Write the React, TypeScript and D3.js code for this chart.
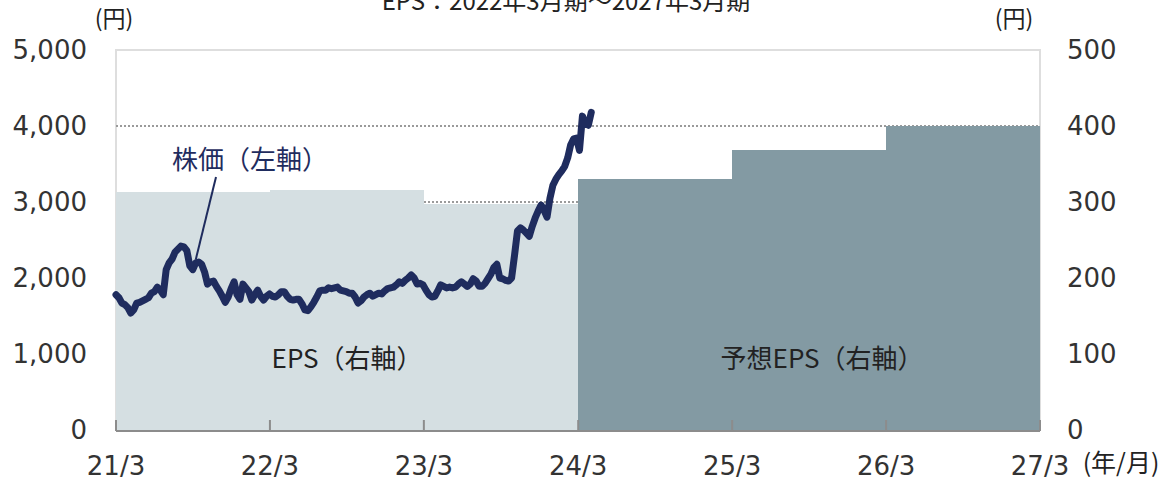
import React from "react";
import * as d3 from "d3";

// ---- data ----
const xTickDates = ["2021-03-31", "2022-03-31", "2023-03-31", "2024-03-31", "2025-03-31", "2026-03-31", "2027-03-31"];
const xTickLabels = ["21/3", "22/3", "23/3", "24/3", "25/3", "26/3", "27/3"];
const leftTicks = [0, 1000, 2000, 3000, 4000, 5000];
const rightTicks = [0, 100, 200, 300, 400, 500];

// EPS by fiscal year (period ending on the date)
const epsPeriodEnd = ["2022-03-31", "2023-03-31", "2024-03-31", "2025-03-31", "2026-03-31", "2027-03-31"];
const epsValues = [313, 316, 298, 330, 369, 400];
const epsIsForecast = [false, false, false, true, true, true];

// weekly share price (yen)
const priceDates = [
  "2021-03-31", "2021-04-07", "2021-04-14", "2021-04-21", "2021-04-28", "2021-05-05", "2021-05-12", "2021-05-19", "2021-05-26",
  "2021-06-02", "2021-06-09", "2021-06-16", "2021-06-23", "2021-06-30", "2021-07-07", "2021-07-14", "2021-07-21", "2021-07-28",
  "2021-08-04", "2021-08-11", "2021-08-18", "2021-08-25", "2021-09-01", "2021-09-08", "2021-09-15", "2021-09-22", "2021-09-29",
  "2021-10-06", "2021-10-13", "2021-10-20", "2021-10-27", "2021-11-03", "2021-11-10", "2021-11-17", "2021-11-24", "2021-12-01",
  "2021-12-08", "2021-12-15", "2021-12-22", "2021-12-29", "2022-01-05", "2022-01-12", "2022-01-19", "2022-01-26", "2022-02-02",
  "2022-02-09", "2022-02-16", "2022-02-23", "2022-03-02", "2022-03-09", "2022-03-16", "2022-03-23", "2022-03-30", "2022-04-06",
  "2022-04-13", "2022-04-20", "2022-04-27", "2022-05-04", "2022-05-11", "2022-05-18", "2022-05-25", "2022-06-01", "2022-06-08",
  "2022-06-15", "2022-06-22", "2022-06-29", "2022-07-06", "2022-07-13", "2022-07-20", "2022-07-27", "2022-08-03", "2022-08-10",
  "2022-08-17", "2022-08-24", "2022-08-31", "2022-09-07", "2022-09-14", "2022-09-21", "2022-09-28", "2022-10-05", "2022-10-12",
  "2022-10-19", "2022-10-26", "2022-11-02", "2022-11-09", "2022-11-16", "2022-11-23", "2022-11-30", "2022-12-07", "2022-12-14",
  "2022-12-21", "2022-12-28", "2023-01-04", "2023-01-11", "2023-01-18", "2023-01-25", "2023-02-01", "2023-02-08", "2023-02-15",
  "2023-02-22", "2023-03-01", "2023-03-08", "2023-03-15", "2023-03-22", "2023-03-29", "2023-04-05", "2023-04-12", "2023-04-19",
  "2023-04-26", "2023-05-03", "2023-05-10", "2023-05-17", "2023-05-24", "2023-05-31", "2023-06-07", "2023-06-14", "2023-06-21",
  "2023-06-28", "2023-07-05", "2023-07-12", "2023-07-19", "2023-07-26", "2023-08-02", "2023-08-09", "2023-08-16", "2023-08-23",
  "2023-08-30", "2023-09-06", "2023-09-13", "2023-09-20", "2023-09-27", "2023-10-04", "2023-10-11", "2023-10-18", "2023-10-25",
  "2023-11-01", "2023-11-08", "2023-11-15", "2023-11-22", "2023-11-29", "2023-12-06", "2023-12-13", "2023-12-20", "2023-12-27",
  "2024-01-03", "2024-01-10", "2024-01-17", "2024-01-24", "2024-01-31", "2024-02-07", "2024-02-14", "2024-02-21", "2024-02-28",
  "2024-03-06", "2024-03-13", "2024-03-20", "2024-03-27", "2024-04-03", "2024-04-10", "2024-04-17", "2024-04-24", "2024-05-01",
];
const priceValues = [
  1780, 1740, 1670, 1650, 1610, 1540, 1580, 1670, 1680,
  1700, 1720, 1740, 1800, 1820, 1880, 1840, 1780, 2110,
  2200, 2250, 2340, 2380, 2420, 2410, 2360, 2160, 2110,
  2200, 2210, 2180, 2080, 1920, 1950, 1960, 1890, 1830,
  1760, 1680, 1750, 1860, 1950, 1780, 1720, 1920, 1870,
  1820, 1710, 1780, 1840, 1760, 1710, 1760, 1790, 1760,
  1750, 1780, 1820, 1820, 1760, 1720, 1710, 1720, 1720,
  1660, 1580, 1570, 1620, 1680, 1750, 1830, 1840, 1840,
  1870, 1860, 1870, 1880, 1840, 1830, 1820, 1800, 1800,
  1750, 1670, 1700, 1750, 1780, 1800, 1760, 1780, 1800,
  1790, 1830, 1860, 1870, 1880, 1910, 1950, 1930, 1970,
  2000, 2040, 2000, 1920, 1930, 1910, 1840, 1780, 1750,
  1760, 1830, 1910, 1890, 1870, 1880, 1870, 1880, 1920,
  1950, 1920, 1890, 1920, 1990, 1960, 1890, 1890, 1930,
  1990, 2050, 2140, 2180, 2000, 1990, 1970, 1960, 2000,
  2300, 2620, 2660, 2630, 2590, 2550, 2680, 2790, 2880,
  2960, 2890, 2800, 3050, 3220, 3300, 3360, 3410, 3470,
  3580, 3750, 3830, 3840, 3680, 4130, 4030, 4010, 4180,
];

const titleText = "EPS：2022年3月期～2027年3月期";
const priceLabel = "株価（左軸）";
const priceLabelTarget = { date: "2021-10-06", value: 2240 };
const epsLabel = "EPS（右軸）";
const epsForecastLabel = "予想EPS（右軸）";
const unitLeft = "(円)";
const unitRight = "(円)";
const unitX = "(年/月)";

// ---- layout ----
const W = 1168;
const H = 484;
const M = { left: 116, right: 1040, top: 50, bottom: 430 };
const NUM_FONT = "'DejaVu Sans', Verdana, sans-serif";
const JP_FONT = "'Noto Sans CJK JP', 'Noto Sans', sans-serif";

export default function App() {
  const parse = d3.timeParse("%Y-%m-%d");
  const x = d3
    .scaleTime()
    .domain([parse(xTickDates[0])!, parse(xTickDates[xTickDates.length - 1])!])
    .range([M.left, M.right]);
  const yL = d3.scaleLinear().domain([0, 5000]).range([M.bottom, M.top]);
  const yR = d3.scaleLinear().domain([0, 500]).range([M.bottom, M.top]);

  const bars = epsValues.map((v, i) => {
    const start = i === 0 ? parse(xTickDates[0])! : parse(epsPeriodEnd[i - 1])!;
    const end = parse(epsPeriodEnd[i])!;
    const x0 = Math.round(x(start));
    const x1 = Math.round(x(end));
    const y0 = Math.round(yR(v));
    return { x0, x1, y0, forecast: epsIsForecast[i] };
  });

  const pts = priceDates.map((d, i) => [x(parse(d)!), yL(priceValues[i])] as [number, number]);
  const line = d3.line().curve(d3.curveLinear)(pts) || "";

  const tgtX = x(parse(priceLabelTarget.date)!);
  const tgtY = yL(priceLabelTarget.value);

  const midActual = (x(parse(xTickDates[0])!) + x(parse(epsPeriodEnd[2])!)) / 2;
  const midForecast = (x(parse(epsPeriodEnd[2])!) + x(parse(epsPeriodEnd[5])!)) / 2;

  return (
    <svg
      width={W}
      height={H}
      style={{ position: "absolute", left: 0, top: 0, display: "block", background: "#fff" }}
    >
      {/* title (partially clipped at top, as in the source) */}
      <text x={566} y={9.5} textAnchor="middle" fontFamily={JP_FONT} fontSize={24} fill="#222">
        {titleText}
      </text>

      {/* plot frame */}
      <rect x={M.left} y={M.top} width={M.right - M.left} height={M.bottom - M.top} fill="#fff" stroke="#dedede" strokeWidth={2} />

      {/* dotted gridlines */}
      {leftTicks.filter((t) => t > 0 && t < 5000).map((t) => (
        <line key={t} x1={M.left} x2={M.right} y1={yL(t)} y2={yL(t)} stroke="#9a9a9a" strokeWidth={2} strokeDasharray="2,2" />
      ))}

      {/* EPS bars */}
      {bars.map((b, i) => (
        <rect
          key={i}
          x={b.x0}
          y={b.y0}
          width={b.x1 - b.x0}
          height={M.bottom - b.y0}
          fill={b.forecast ? "#839aa3" : "#d5dfe2"}
          shapeRendering="crispEdges"
        />
      ))}

      {/* x axis */}
      <line x1={M.left} x2={M.right} y1={M.bottom + 1} y2={M.bottom + 1} stroke="#8c8c8c" strokeWidth={2} />
      {xTickDates.map((d, i) => {
        const xx = x(parse(d)!);
        return (
          <g key={d}>
            <line x1={xx} x2={xx} y1={M.bottom - 10} y2={M.bottom + 1} stroke="#8c8c8c" strokeWidth={2} />
            <text x={xx} y={475} textAnchor="middle" fontFamily={NUM_FONT} fontSize={26} fill="#333">
              {xTickLabels[i]}
            </text>
          </g>
        );
      })}

      {/* left axis labels */}
      {leftTicks.map((t) => (
        <text key={t} x={87} y={yL(t) + 9} textAnchor="end" fontFamily={NUM_FONT} fontSize={26} fill="#333">
          {d3.format(",")(t)}
        </text>
      ))}
      {/* right axis labels */}
      {rightTicks.map((t) => (
        <text key={t} x={1067} y={yR(t) + 9} textAnchor="start" fontFamily={NUM_FONT} fontSize={26} fill="#333">
          {d3.format(",")(t)}
        </text>
      ))}

      {/* units */}
      <text x={114} y={27} textAnchor="middle" fontFamily={JP_FONT} fontSize={23} fill="#222">{unitLeft}</text>
      <text x={1014} y={27} textAnchor="middle" fontFamily={JP_FONT} fontSize={23} fill="#222">{unitRight}</text>
      <text x={1121} y={472} textAnchor="middle" fontFamily={JP_FONT} fontSize={25} fill="#222">{unitX}</text>

      {/* price line */}
      <path d={line} fill="none" stroke="#1f2c5e" strokeWidth={7} strokeLinejoin="round" strokeLinecap="round" />

      {/* labels */}
      <text x={250} y={169} textAnchor="middle" fontFamily={JP_FONT} fontSize={26} fill="#1f2c5e">{priceLabel}</text>
      <line x1={216} y1={177} x2={tgtX} y2={tgtY} stroke="#1f2c5e" strokeWidth={2} />
      <text x={midActual} y={368} textAnchor="middle" fontFamily={JP_FONT} fontSize={26} fill="#222">{epsLabel}</text>
      <text x={midForecast + 13} y={368} textAnchor="middle" fontFamily={JP_FONT} fontSize={26} fill="#222">{epsForecastLabel}</text>
    </svg>
  );
}
